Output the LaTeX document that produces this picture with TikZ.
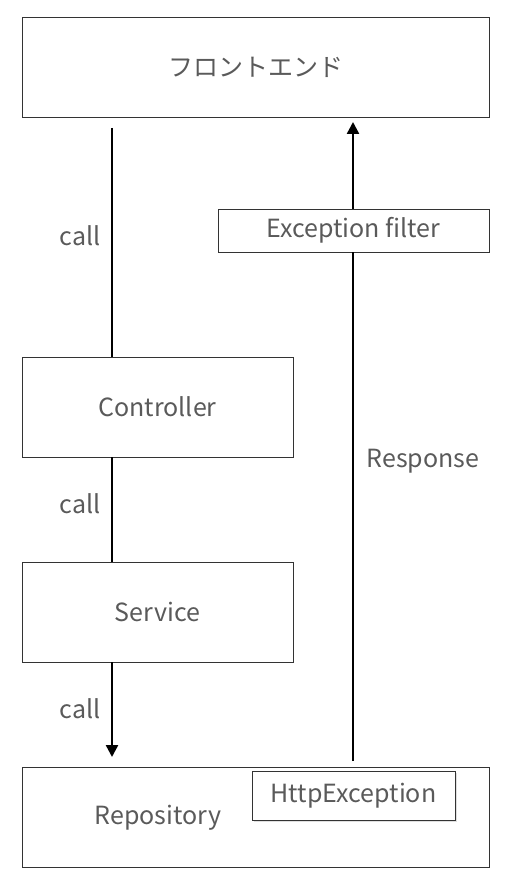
\documentclass[tikz,border=0pt]{standalone}
\usepackage{fontspec}
\setmainfont{Noto Sans CJK JP}
\usetikzlibrary{arrows.meta,shadows}
\definecolor{textgray}{HTML}{5A5A5A}
\definecolor{linegray}{HTML}{333333}
\tikzset{
  box/.style={draw=linegray, line width=0.9pt, fill=white, text=textgray, font=\fontsize{25}{30}\selectfont, inner sep=0pt},
  flow/.style={line width=2.4pt, black},
  tip/.style={-{Triangle[length=12pt,width=12pt]}},
  lbl/.style={text=textgray, font=\fontsize{25}{30}\selectfont}
}
\begin{document}
\begin{tikzpicture}[x=1pt,y=1pt]
\useasboundingbox (0,0) rectangle (513,-893);
% Boxes
\node[box, minimum width=467pt, minimum height=100pt] (front) at (255.5,-67) {フロントエンド};
\node[box, minimum width=271pt, minimum height=43pt] (filter) at (353.5,-230.5) {Exception filter};
\node[box, minimum width=271pt, minimum height=100pt] (ctrl) at (157.5,-407) {Controller};
\node[box, minimum width=271pt, minimum height=100pt] (svc) at (157.5,-612) {Service};
\node[box, minimum width=467pt, minimum height=100pt] (repo) at (255.5,-817) {};
\node[lbl] (repolbl) at (158,-818) {Repository};
\node[box, minimum width=203pt, minimum height=49pt,
      drop shadow={opacity=0.25, shadow xshift=1.5pt, shadow yshift=-1.5pt}] (http) at (353.5,-795.5) {HttpException};
% Free ends of the connectors
\coordinate (callstart) at (112,-128);
\coordinate (callend) at (112,-757);
\coordinate (respstart) at (353,-761);
\coordinate (respend) at (353,-122);
% Calls going down
\draw[flow] (callstart) -- (callstart |- ctrl.north);
\draw[flow] (callstart |- ctrl.south) -- (callstart |- svc.north);
\draw[flow, tip] (callstart |- svc.south) -- (callend);
% Response going up
\draw[flow] (respstart) -- (respstart |- filter.south);
\draw[flow, tip] (respstart |- filter.north) -- (respend);
% Labels
\node[lbl] (call1) at (80,-236) {call};
\node[lbl] (call2) at (80,-504) {call};
\node[lbl] (call3) at (80,-709) {call};
\node[lbl] (resp) at (423,-461) {Response};
\end{tikzpicture}
\end{document}
